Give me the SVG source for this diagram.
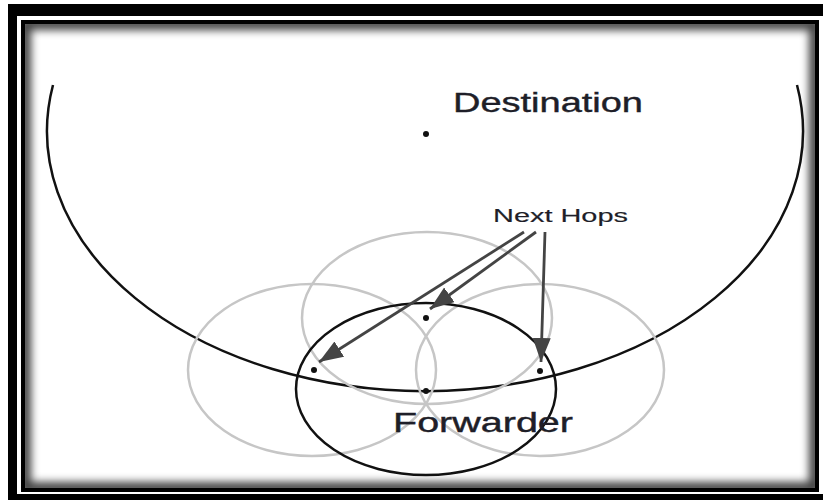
<svg xmlns="http://www.w3.org/2000/svg" width="823" height="500" viewBox="0 0 823 500">
  <style>
    .lbl { font-family: "Liberation Sans", Arial, sans-serif; fill: #1e1e28; stroke: #1e1e28; stroke-width: 0.4; }
    .small { stroke-width: 0.15; }
    .range { fill: none; stroke: #c6c6c6; stroke-width: 2.5; }
    .black { fill: none; stroke: #111; stroke-width: 2.5; }
    .dot { fill: #111; }
    .arrow { stroke: #444; stroke-width: 2.8; fill: none; marker-end: url(#head); }
  </style>
  <defs>
    <marker id="head" markerUnits="userSpaceOnUse" markerWidth="26" markerHeight="20" refX="24" refY="9" orient="auto">
      <path d="M0,0 L24,9 L0,18 Z" fill="#444"/>
    </marker>
    <clipPath id="inner"><rect x="25" y="24" width="790" height="464"/></clipPath>
    <filter id="blur" x="-5%" y="-5%" width="110%" height="110%"><feGaussianBlur stdDeviation="4"/></filter>
  </defs>
  <rect width="823" height="500" fill="#fff"/>
  <!-- frame -->
  <g id="frame">
    <rect x="8" y="4" width="815" height="12" fill="#000"/>
    <rect x="8" y="4" width="9" height="496" fill="#000"/>
    <rect x="8" y="494" width="815" height="6" fill="#000"/>
    <rect x="23" y="22" width="794" height="468" fill="none" stroke="#000" stroke-width="4"/>
    <g clip-path="url(#inner)">
      <rect x="25" y="24" width="790" height="464" fill="none" stroke="#000" stroke-width="12" filter="url(#blur)" opacity="0.75"/>
    </g>
  </g>
  <!-- destination -->
  <g id="destination">
    <path class="black" d="M53,85 A378,260 0 1 0 797,85"/>
    <circle class="dot" cx="426" cy="134" r="3"/>
    <text class="lbl" x="453" y="112" font-size="27" textLength="190" lengthAdjust="spacingAndGlyphs">Destination</text>
  </g>
  <!-- next hops -->
  <g id="hop-top">
    <ellipse class="range" cx="427" cy="318" rx="125" ry="86"/>
    <circle class="dot" cx="426" cy="318" r="3"/>
  </g>
  <g id="hop-left">
    <ellipse class="range" cx="312" cy="370" rx="124" ry="86"/>
    <circle class="dot" cx="314" cy="370" r="3"/>
  </g>
  <g id="hop-right">
    <ellipse class="range" cx="540" cy="370" rx="124" ry="86"/>
    <circle class="dot" cx="540" cy="371" r="3"/>
  </g>
  <g id="next-hops-label">
    <text class="lbl small" x="493" y="222" font-size="18" textLength="135" lengthAdjust="spacingAndGlyphs">Next Hops</text>
  </g>
  <!-- forwarder -->
  <g id="forwarder">
    <ellipse class="black" cx="426" cy="389" rx="130" ry="86" stroke-width="3"/>
    <circle class="dot" cx="426" cy="391" r="3"/>
    <text class="lbl" x="393" y="432" font-size="27" textLength="180" lengthAdjust="spacingAndGlyphs">Forwarder</text>
  </g>
  <!-- connectors -->
  <g id="connectors">
    <line class="arrow" x1="524" y1="232" x2="319" y2="362"/>
    <line class="arrow" x1="536" y1="232" x2="430" y2="309"/>
    <line class="arrow" x1="545" y1="232" x2="541" y2="362"/>
  </g>
</svg>
